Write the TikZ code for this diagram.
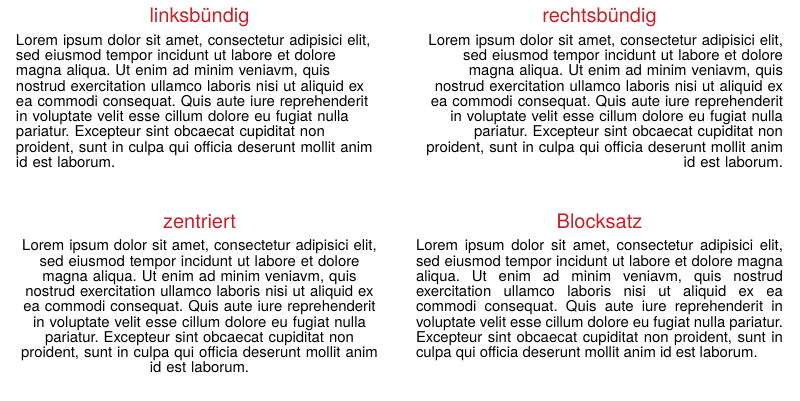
\documentclass[tikz,border=0pt]{standalone}
\usepackage{fontspec}
\setmainfont{TeX Gyre Heros}
\usetikzlibrary{positioning}
\definecolor{titlered}{RGB}{200,30,38}
\frenchspacing

\begin{document}
\begin{tikzpicture}[x=1pt,y=-1pt,node distance=7pt,
	heading/.style={text=titlered,font=\fontsize{20}{24}\selectfont,inner sep=0pt,anchor=base,text depth=4.4pt},
	body/.style={text width=367pt,inner sep=0pt,font=\fontsize{14.9}{15.25}\selectfont}]
	\useasboundingbox (0,0) rectangle (800,400);
	%% left aligned
	\node (ltitle) [heading] at (199.5,22.7) {linksbündig};
	\node (lbody) [body,align=left,below=of ltitle]
	{Lorem ipsum dolor sit amet, consectetur adipisici elit,\\
	sed eiusmod tempor incidunt ut labore et dolore\\
	magna aliqua. Ut enim ad minim veniavm, quis\\
	nostrud exercitation ullamco laboris nisi ut aliquid ex\\
	ea commodi consequat. Quis aute iure reprehenderit\\
	in voluptate velit esse cillum dolore eu fugiat nulla\\
	pariatur. Excepteur sint obcaecat cupiditat non\\
	proident, sunt in culpa qui officia deserunt mollit anim\\
	id est laborum.};
	
	%% right aligned
	\node (rtitle) [heading] at (599.5,22.7) {rechtsbündig};
	\node (rbody) [body,align=right,below=of rtitle]
	{Lorem ipsum dolor sit amet, consectetur adipisici elit,\\
	sed eiusmod tempor incidunt ut labore et dolore\\
	magna aliqua. Ut enim ad minim veniavm, quis\\
	nostrud exercitation ullamco laboris nisi ut aliquid ex\\
	ea commodi consequat. Quis aute iure reprehenderit\\
	in voluptate velit esse cillum dolore eu fugiat nulla\\
	pariatur. Excepteur sint obcaecat cupiditat non\\
	proident, sunt in culpa qui officia deserunt mollit anim\\
	id est laborum.};
	
	%% centered
	\node (ctitle) [heading] at (199.5,228.3) {zentriert};
	\node (cbody) [body,align=center,below=of ctitle]
	{Lorem ipsum dolor sit amet, consectetur adipisici elit,\\
	sed eiusmod tempor incidunt ut labore et dolore\\
	magna aliqua. Ut enim ad minim veniavm, quis\\
	nostrud exercitation ullamco laboris nisi ut aliquid ex\\
	ea commodi consequat. Quis aute iure reprehenderit\\
	in voluptate velit esse cillum dolore eu fugiat nulla\\
	pariatur. Excepteur sint obcaecat cupiditat non\\
	proident, sunt in culpa qui officia deserunt mollit anim\\
	id est laborum.};
	
	%% justified
	\node (btitle) [heading] at (599.5,228.3) {Blocksatz};
	\node (bbody) [body,align=justify,below=of btitle]
	{\tolerance=10000 Lorem ipsum dolor sit amet, consectetur adipisici elit, \linebreak
	sed eiusmod tempor incidunt ut labore et dolore magna \linebreak
	aliqua. Ut enim ad minim veniavm, quis nostrud \linebreak
	exercitation ullamco laboris nisi ut aliquid ex ea \linebreak
	commodi consequat. Quis aute iure reprehenderit in \linebreak
	voluptate velit esse cillum dolore eu fugiat nulla pariatur. \linebreak
	Excepteur sint obcaecat cupiditat non proident, sunt in \linebreak
	culpa qui officia deserunt mollit anim id est laborum.};
\end{tikzpicture}
\end{document}
